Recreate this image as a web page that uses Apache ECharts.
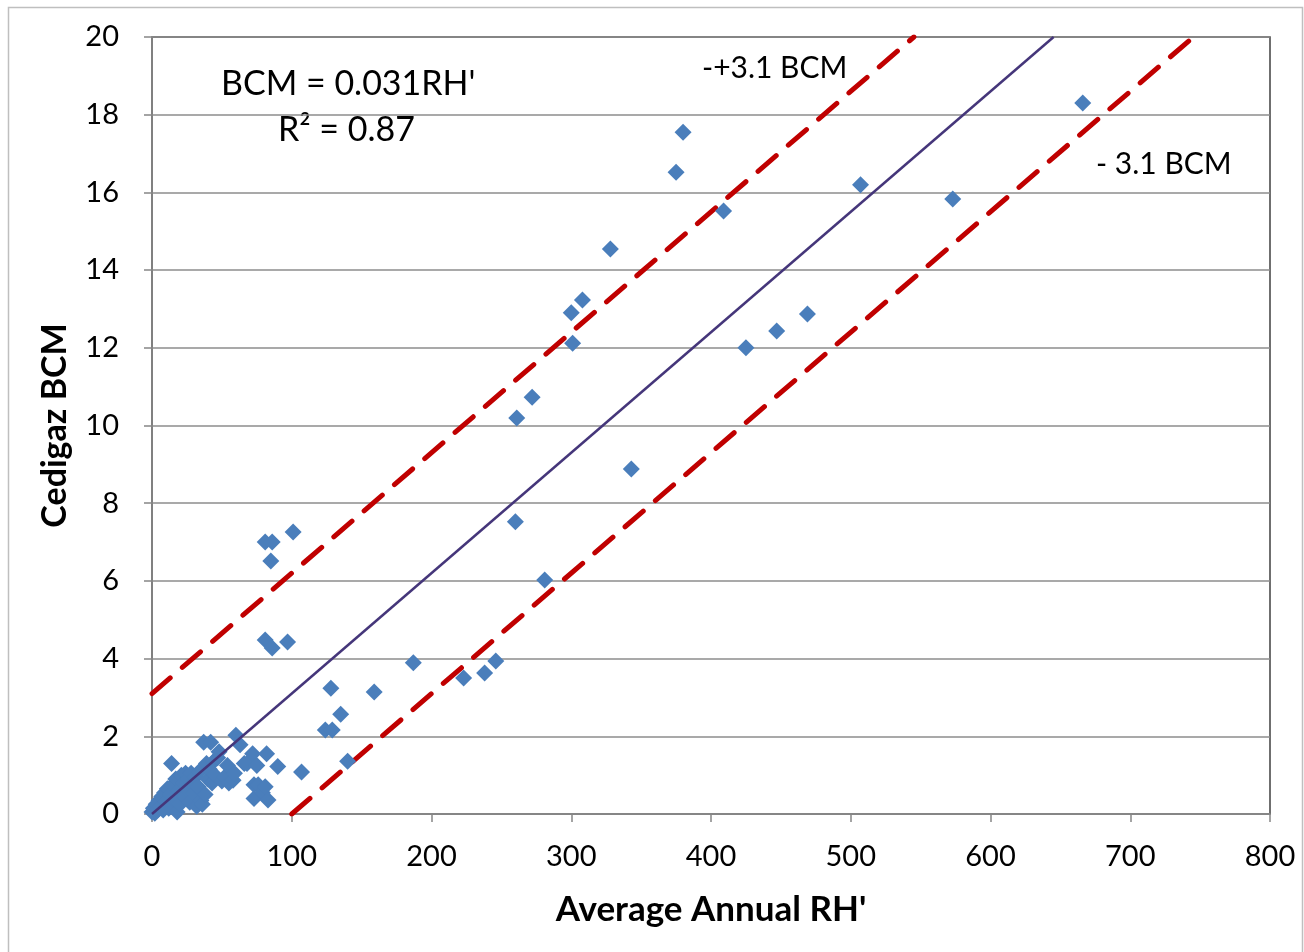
<!DOCTYPE html>
<html>
<head>
<meta charset="utf-8">
<script src="https://cdn.jsdelivr.net/npm/echarts@6/dist/echarts.min.js"></script>
<style>
  html, body { margin: 0; padding: 0; background: #fff; }
  #main { width: 1304px; height: 952px; }
</style>
</head>
<body>
<div id="main"></div>
<script>
// regression: BCM = 0.031 RH', band +/- 3.1 BCM
const slope = 0.031;
const band = 3.1;

// scatter values (RH', BCM)
const rhValues = [
  0, 1, 2, 3, 4, 5, 6, 7, 8, 9, 10, 11, 12, 13, 14, 15, 16, 17, 18, 19,
  20, 21, 22, 23, 24, 25, 26, 27, 28, 29, 30, 31, 32, 33, 34, 35, 36, 37, 38, 39,
  40, 41, 42, 43, 44, 45, 47, 48, 50, 52, 54, 55, 58, 59, 60, 63, 66, 68, 72, 73,
  73, 75, 76, 79, 81, 82, 83, 90, 107,
  81, 86, 85, 101, 81, 86, 97, 124, 129, 128, 135, 140, 159, 187, 223, 238, 246,
  260, 261, 272, 281, 300, 301, 308, 328, 343, 375, 380, 409, 425, 447, 469, 507, 573, 666
];
const bcmValues = [
  0.05, 0.15, 0.02, 0.25, 0.1, 0.35, 0.2, 0.45, 0.1, 0.55, 0.3, 0.65, 0.15, 0.5, 1.3, 0.75, 0.35, 0.9, 0.05, 0.6,
  0.25, 1.0, 0.8, 0.45, 1.05, 0.65, 0.9, 0.3, 1.05, 0.75, 0.55, 0.95, 0.2, 0.7, 1.1, 0.35, 0.25, 1.85, 0.5, 1.3,
  0.9, 1.15, 1.85, 0.8, 1.35, 1.0, 1.45, 1.6, 0.85, 0.95, 1.25, 0.8, 0.87, 1.05, 2.03, 1.78, 1.3, 1.3, 1.55, 0.75,
  0.4, 1.25, 0.75, 0.55, 0.7, 1.55, 0.36, 1.22, 1.08,
  7.0, 7.0, 6.51, 7.26, 4.48, 4.27, 4.43, 2.16, 2.16, 3.24, 2.57, 1.36, 3.14, 3.89, 3.5, 3.63, 3.94,
  7.52, 10.19, 10.73, 6.02, 12.9, 12.12, 13.23, 14.54, 8.88, 16.52, 17.55, 15.52, 12.0, 12.43, 12.87, 16.2, 15.83, 18.3
];

const xTicks = [0, 100, 200, 300, 400, 500, 600, 700, 800];
const yTicks = [0, 2, 4, 6, 8, 10, 12, 14, 16, 18, 20];

const points = rhValues.map((x, i) => [x, bcmValues[i]]);
const yMax = 20;
const trendLine = [[0, 0], [yMax / slope, yMax]];
const upperLine = [[0, band], [(yMax - band) / slope, yMax]];
const lowerLine = [[band / slope, 0], [(yMax + band) / slope, yMax]];

const font = 'Lato, "Open Sans", sans-serif';

var myChart = echarts.init(document.getElementById('main'));

var option = {
  backgroundColor: '#fff',
  animation: false,
  grid: {
    left: 152, right: 34, top: 37, bottom: 138,
    show: true, borderColor: '#404040', borderWidth: 1.5, backgroundColor: 'transparent'
  },
  graphic: [{
    type: 'rect', shape: { x: 8.5, y: 7.5, width: 1294, height: 960 },
    style: { fill: 'none', stroke: '#bfbfbf', lineWidth: 1.5 }, z: -1
  }, {
    type: 'text', left: 221, top: 67,
    style: { text: "BCM = 0.031RH'", font: '34px ' + font, fill: '#000' }
  }, {
    type: 'text', left: 278, top: 113,
    style: { text: 'R² = 0.87', font: '34px ' + font, fill: '#000' }
  }, {
    type: 'text', left: 702, top: 53,
    style: { text: '-+3.1 BCM', font: '30px ' + font, fill: '#000' }
  }, {
    type: 'text', left: 1096, top: 149,
    style: { text: '- 3.1 BCM', font: '30px ' + font, fill: '#000' }
  }],
  xAxis: {
    type: 'value', min: 0, max: 800, interval: 100,
    name: "Average Annual RH'", nameLocation: 'middle', nameGap: 78,
    nameTextStyle: { fontFamily: font, fontSize: 35, fontWeight: 'bold', color: '#000' },
    axisLine: { show: true, lineStyle: { color: '#868686', width: 1.5 } },
    axisTick: { show: true, length: 8, lineStyle: { color: '#868686', width: 1.5 } },
    axisLabel: {
      margin: 28, fontFamily: font, fontSize: 29, color: '#000',
      formatter: v => xTicks.includes(v) ? String(v) : ''
    },
    splitLine: { show: false }
  },
  yAxis: {
    type: 'value', min: 0, max: 20, interval: 2,
    name: 'Cedigaz BCM', nameLocation: 'middle', nameGap: 80,
    nameTextStyle: { fontFamily: font, fontSize: 34, fontWeight: 'bold', color: '#000' },
    axisLine: { show: true, lineStyle: { color: '#868686', width: 1.5 } },
    axisTick: { show: true, length: 8, lineStyle: { color: '#868686', width: 1.5 } },
    axisLabel: {
      margin: 33, fontFamily: font, fontSize: 29, color: '#000',
      formatter: v => yTicks.includes(v) ? String(v) : ''
    },
    splitLine: { show: true, lineStyle: { color: '#8c8c8c', width: 1.5 } }
  },
  series: [
    {
      name: 'band+', type: 'line', data: upperLine, symbol: 'none',
      lineStyle: { color: '#c00000', width: 5, type: [24, 16], cap: 'round' }, z: 2
    },
    {
      name: 'band-', type: 'line', data: lowerLine, symbol: 'none',
      lineStyle: { color: '#c00000', width: 5, type: [24, 16], cap: 'round' }, z: 2
    },
    {
      name: 'data', type: 'scatter', data: points, symbol: 'diamond', symbolSize: 17,
      itemStyle: { color: '#4a7ebb', opacity: 1 }, z: 3
    },
    {
      name: 'trend', type: 'line', data: trendLine, symbol: 'none',
      lineStyle: { color: '#45367a', width: 2.5 }, z: 4
    }
  ]
};

myChart.setOption(option);
</script>
</body>
</html>
